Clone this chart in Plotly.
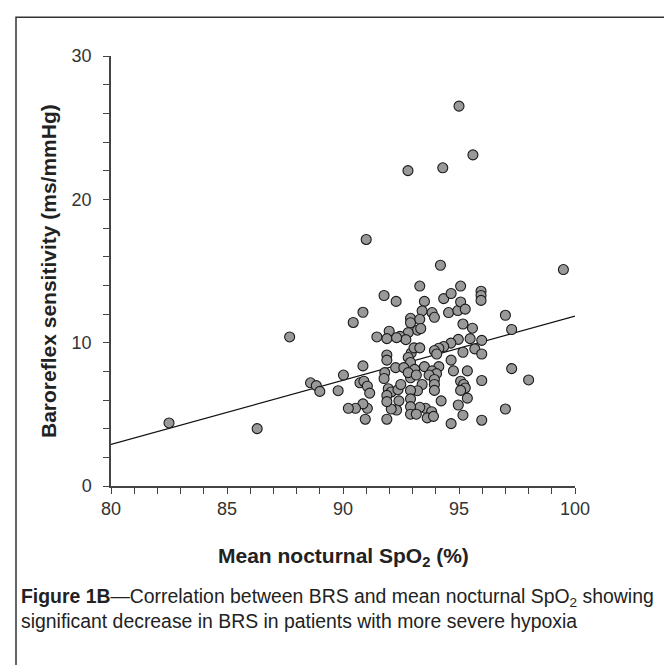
import plotly.graph_objects as go

# Mean nocturnal SpO2 (%) and baroreflex sensitivity (ms/mmHg)
spo2 = [
    91.77, 92.29, 93.31, 94.34, 94.66, 95.07, 95.95, 95.95, 95.95, 93.51,
    90.86, 90.44, 93.41, 93.84, 93.94, 94.55, 94.95, 95.07, 95.27, 97.00,
    92.91, 92.91, 93.31, 93.21, 93.35, 92.81, 92.46, 92.71, 91.99, 91.89,
    91.46, 92.31, 95.17, 95.58, 95.48, 94.97, 94.65, 94.34, 94.13, 93.94,
    94.04, 95.17, 95.68, 95.98, 95.98, 97.27, 97.27, 92.94, 92.81, 92.91,
    93.06, 93.31, 91.89, 91.89, 90.86, 92.27, 92.62, 93.09, 93.51, 94.13,
    93.84, 94.03, 93.71, 93.94, 93.94, 93.94, 94.66, 94.76, 95.36, 95.98,
    90.02, 89.79, 90.73, 90.90, 91.05, 91.15, 91.80, 91.77, 91.95, 92.08,
    92.37, 92.49, 92.91, 92.81, 93.16, 93.41, 93.21, 92.91, 95.07, 95.20,
    95.27, 95.07, 95.36, 94.97, 95.17, 94.66, 95.98, 97.00, 94.23, 93.56,
    93.82, 93.63, 93.31, 92.91, 92.91, 92.91, 93.16, 92.41, 92.31, 92.08,
    91.89, 91.89, 91.89, 91.05, 90.86, 90.54, 90.23, 90.96, 93.90,
    82.50, 86.30, 87.70, 88.60, 88.85, 89.00, 91.00, 92.80, 94.30, 95.00,
    95.60, 94.20, 99.50, 98.00,
]
brs = [
    13.29, 12.88, 13.95, 13.07, 13.43, 13.95, 13.59, 13.29, 12.95, 12.88,
    12.12, 11.41, 12.22, 12.10, 11.77, 12.10, 12.24, 12.84, 12.34, 11.91,
    11.70, 11.39, 11.63, 10.87, 10.99, 10.70, 10.44, 10.21, 10.80, 10.28,
    10.40, 10.35, 11.30, 11.01, 10.28, 10.23, 9.97, 9.73, 9.61, 9.45,
    9.21, 9.33, 9.57, 10.16, 9.21, 10.92, 8.19, 9.28, 8.97, 8.62,
    9.64, 9.64, 9.14, 8.78, 8.38, 8.26, 8.26, 8.14, 8.33, 8.33,
    8.03, 7.84, 7.74, 7.43, 7.08, 6.67, 8.78, 8.03, 8.03, 7.36,
    7.74, 6.65, 7.20, 7.31, 6.96, 6.48, 7.91, 7.50, 6.79, 6.56,
    6.72, 7.08, 7.55, 7.91, 7.74, 7.08, 6.65, 6.67, 7.31, 7.08,
    6.84, 6.67, 6.13, 5.65, 4.94, 4.35, 4.59, 5.37, 5.94, 5.42,
    5.18, 4.75, 5.49, 6.08, 5.54, 5.01, 5.01, 5.94, 5.30, 5.37,
    6.32, 5.89, 4.66, 5.42, 5.73, 5.42, 5.42, 4.66, 4.86,
    4.40, 4.00, 10.40, 7.20, 7.00, 6.60, 17.20, 22.00, 22.20, 26.50,
    23.10, 15.40, 15.10, 7.40,
]

# Regression line end points
fit_x = [80, 100]
fit_y = [2.9, 11.85]

x_ticks = [80, 85, 90, 95, 100]
y_ticks = [0, 10, 20, 30]

FONT = "Liberation Sans, Arial, sans-serif"
AX = "#444444"

fig = go.Figure()
fig.add_trace(go.Scatter(
    x=fit_x, y=fit_y, mode="lines",
    line=dict(color="#111111", width=1.3), hoverinfo="skip",
))
fig.add_trace(go.Scatter(
    x=spo2, y=brs, mode="markers",
    marker=dict(size=10, color="#999999", line=dict(color="#1a1a1a", width=1.1)),
))

fig.update_layout(
    width=672, height=665,
    margin=dict(l=103, r=105, t=48, b=187),
    paper_bgcolor="white", plot_bgcolor="white",
    showlegend=False,
    font=dict(family=FONT, color="#333333", size=16),
    xaxis=dict(
        range=[80, 100], tickvals=x_ticks, ticktext=[str(v) for v in x_ticks],
        showgrid=False, zeroline=False, showline=True, linecolor=AX, linewidth=1.5,
        ticks="outside", ticklen=6, tickwidth=1.2, tickcolor=AX,
        minor=dict(dtick=1, ticks="outside", ticklen=6, tickwidth=1.2, tickcolor=AX),
        tickfont=dict(family=FONT, size=18, color="#333333"),
        ticklabelstandoff=0,
    ),
    yaxis=dict(
        range=[0, 30], tickvals=y_ticks, ticktext=[str(v) for v in y_ticks],
        showgrid=False, zeroline=False, showline=True, linecolor=AX, linewidth=1.5,
        ticks="outside", ticklen=6, tickwidth=1.2, tickcolor=AX,
        minor=dict(dtick=2, ticks="outside", ticklen=6, tickwidth=1.2, tickcolor=AX),
        tickfont=dict(family=FONT, size=18, color="#333333"),
        ticklabelstandoff=8,
    ),
)

# axis titles
fig.add_annotation(
    x=0.5, y=(477.7 - 549) / 430, xref="paper", yref="paper", showarrow=False,
    text="<b>Mean nocturnal SpO<sub>2</sub> (%)</b>",
    font=dict(family=FONT, size=21, color="#222222"),
    xanchor="center", yanchor="middle",
)
fig.add_annotation(
    x=(40 - 103) / 464, y=0.5, xref="paper", yref="paper", showarrow=False,
    text="<b>Baroreflex sensitivity (ms/mmHg)</b>", textangle=-90,
    font=dict(family=FONT, size=21, color="#222222"),
    xanchor="center", yanchor="middle",
)

# caption
fig.add_annotation(
    x=(11 - 103) / 464, y=(477.7 - 575) / 430, xref="paper", yref="paper",
    showarrow=False, align="left", xanchor="left", yanchor="top",
    text=("<b>Figure 1B</b>—Correlation between BRS and mean nocturnal SpO<sub>2</sub> showing"
          "<br>significant decrease in BRS in patients with more severe hypoxia"),
    font=dict(family=FONT, size=19.4, color="#222222"),
)

# frame around the figure
fig.add_shape(
    type="rect", xref="paper", yref="paper",
    x0=(8 - 103) / 464, x1=(664 - 103) / 464,
    y0=(477.7 - 672) / 430, y1=(477.7 - 9) / 430,
    line=dict(color="#333333", width=1.5), fillcolor="rgba(0,0,0,0)", layer="below",
)

fig.write_html("out.html")
